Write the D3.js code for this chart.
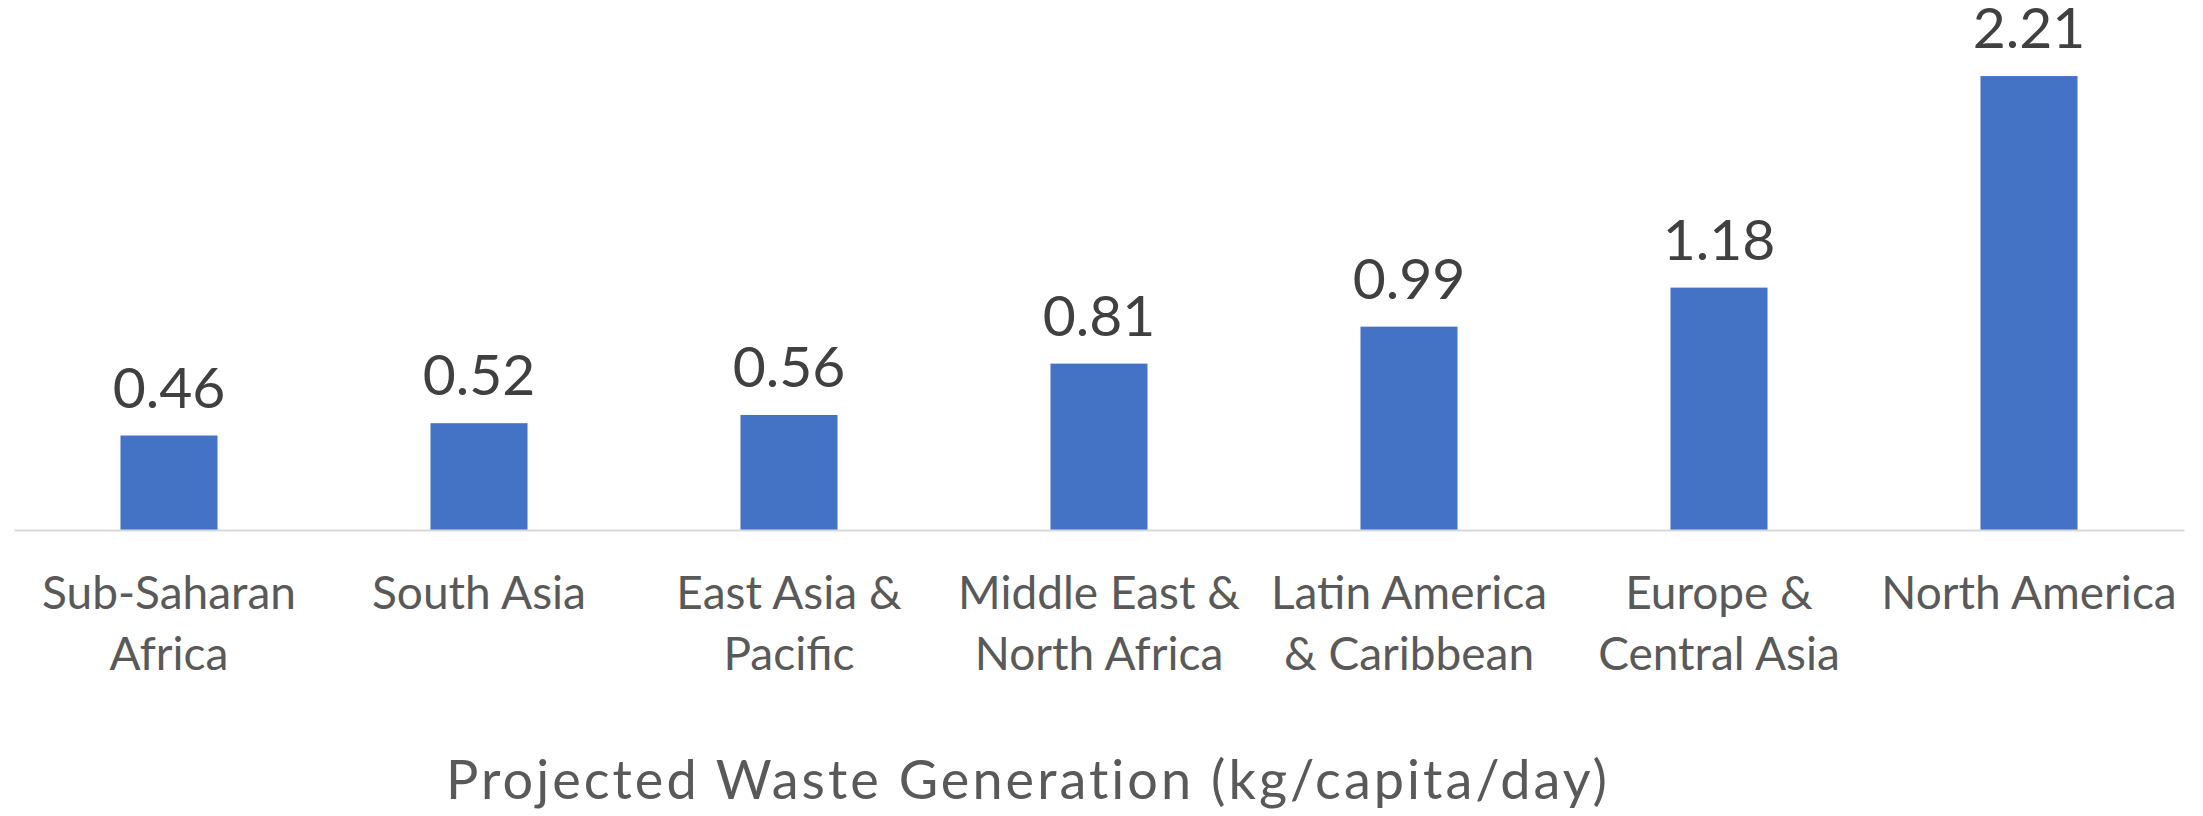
<!DOCTYPE html>
<html>
<head>
<meta charset="utf-8">
<script src="https://cdn.jsdelivr.net/npm/d3@7"></script>
<style>
  html, body { margin: 0; padding: 0; background: #ffffff; }
  svg { display: block; }
</style>
</head>
<body>
<svg id="chart" width="2203" height="816"></svg>
<script>
// Regions and projected per-capita waste generation (kg/capita/day)
const categories = [
  "Sub-Saharan Africa",
  "South Asia",
  "East Asia & Pacific",
  "Middle East & North Africa",
  "Latin America & Caribbean",
  "Europe & Central Asia",
  "North America"
];
const categoryLines = [
  ["Sub-Saharan", "Africa"],
  ["South Asia"],
  ["East Asia &", "Pacific"],
  ["Middle East &", "North Africa"],
  ["Latin America", "& Caribbean"],
  ["Europe &", "Central Asia"],
  ["North America"]
];
const values = [0.46, 0.52, 0.56, 0.81, 0.99, 1.18, 2.21];
const axisTitle = "Projected Waste Generation (kg/capita/day)";

const svg = d3.select("#chart");
const plot = { left: 14, right: 2184, top: 16.5, bottom: 530 };

const x = d3.scaleBand()
  .domain(categories)
  .range([plot.left, plot.right])
  .paddingInner(0.687)
  .paddingOuter(0.3435);

const y = d3.scaleLinear()
  .domain([0, 2.5])
  .range([plot.bottom, plot.top]);

// Bars
svg.append("g")
  .selectAll("rect")
  .data(values)
  .join("rect")
  .attr("x", (d, i) => x(categories[i]))
  .attr("y", d => y(d))
  .attr("width", x.bandwidth())
  .attr("height", d => y(0) - y(d))
  .attr("fill", "#4472C4");

// Category axis
const axis = svg.append("g")
  .attr("transform", `translate(0,${plot.bottom})`)
  .call(d3.axisBottom(x).tickSize(0).tickSizeOuter(0).tickFormat(""));
axis.select(".domain").attr("stroke", "#D9D9D9").attr("stroke-width", 2);

const labelFont = "Lato, 'Open Sans', sans-serif";
axis.selectAll(".tick").each(function (d, i) {
  const t = d3.select(this).select("text")
    .attr("y", 0)
    .attr("dy", null)
    .attr("fill", "#595959")
    .attr("font-family", labelFont)
    .attr("font-size", 46)
    .attr("text-anchor", "middle");
  t.selectAll("tspan")
    .data(categoryLines[i])
    .join("tspan")
    .attr("x", 0)
    .attr("y", (line, k) => 79 + k * 61)
    .text(line => line);
});

// Value labels above bars
svg.append("g")
  .selectAll("text")
  .data(values)
  .join("text")
  .attr("x", (d, i) => x(categories[i]) + x.bandwidth() / 2)
  .attr("y", d => y(d) - 28)
  .attr("text-anchor", "middle")
  .attr("font-family", labelFont)
  .attr("font-size", 57)
  .attr("fill", "#404040")
  .text(d => d3.format(".2f")(d));

// Axis title
const title = svg.append("text")
  .attr("x", 1028)
  .attr("y", 799)
  .attr("text-anchor", "middle")
  .attr("font-family", "Lato, 'DejaVu Sans', sans-serif")
  .attr("font-size", 54)
  .attr("fill", "#595959")
  .text(axisTitle);
const targetWidth = 1162;
const w = title.node().getComputedTextLength();
const n = axisTitle.length;
title.attr("letter-spacing", ((targetWidth - w) / (n - 1)).toFixed(2));
</script>
</body>
</html>
